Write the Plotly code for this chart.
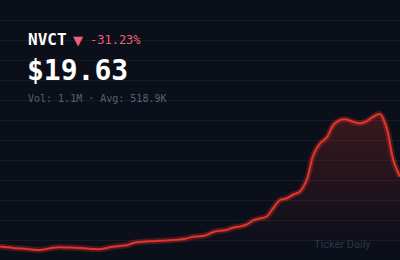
import plotly.graph_objects as go

ticker = "NVCT"
last_price = "$19.63"
change_text = "-31.23%"
volume_text = "Vol: 1.1M · Avg: 518.9K"
watermark = "Ticker Daily"

prices = [9.71, 9.60, 9.50, 9.43, 9.36, 9.26, 9.21, 9.36, 9.54, 9.60,
          9.57, 9.53, 9.50, 9.43, 9.36, 9.31, 9.50, 9.67, 9.78, 9.88,
          10.21, 10.35, 10.42, 10.46, 10.52, 10.56, 10.63, 10.71, 10.85, 11.10,
          11.16, 11.35, 11.77, 11.96, 12.06, 12.41, 12.55, 12.84, 13.41, 13.69,
          13.97, 15.18, 16.32, 16.56, 17.10, 17.53, 19.16, 22.71, 24.35, 25.20,
          26.98, 27.69, 27.76, 27.43, 27.22, 27.54, 28.16, 28.54, 26.55, 22.00,
          19.63]
days = list(range(len(prices)))

Y_BOTTOM, Y_TOP = 7.79, 44.74
GRID_STEP = (Y_TOP - Y_BOTTOM) / 13

BG = "#0b0f1a"
RED = "#e5352a"
W, H = 400, 260

fig = go.Figure()
fig.add_trace(go.Scatter(
    x=days, y=prices, mode="lines",
    line=dict(color="rgba(229,53,42,0.0)", width=0, shape="spline", smoothing=1.0),
    fill="tozeroy",
    fillgradient=dict(type="vertical",
                      colorscale=[[0, "rgba(229,53,42,0.0)"], [1, "rgba(229,53,42,0.22)"]],
                      start=Y_BOTTOM + 2, stop=max(prices)),
    hoverinfo="skip", showlegend=False))
fig.add_trace(go.Scatter(
    x=days, y=prices, mode="lines",
    line=dict(color="rgba(229,53,42,0.28)", width=6, shape="spline", smoothing=1.0),
    hoverinfo="skip", showlegend=False))
fig.add_trace(go.Scatter(
    x=days, y=prices, mode="lines",
    line=dict(color=RED, width=2, shape="spline", smoothing=1.0),
    hoverinfo="skip", showlegend=False))

mono = "DejaVu Sans Mono"

def px(x, y):
    return x / W, 1 - y / H

ann = []
x0, y0 = px(26, 39)
ann.append(dict(text=f"<b>{ticker}</b>", x=x0, y=y0, font=dict(family=mono, size=16, color="#ffffff")))
x0, y0 = px(71, 40)
ann.append(dict(text="▼", x=x0, y=y0, font=dict(family="DejaVu Sans", size=13, color="#f0607a")))
x0, y0 = px(88, 40)
ann.append(dict(text=change_text, x=x0, y=y0, font=dict(family=mono, size=12, color="#f0607a")))
x0, y0 = px(25, 70.5)
ann.append(dict(text=f"<b>{last_price}</b>", x=x0, y=y0, font=dict(family=mono, size=28, color="#ffffff")))
x0, y0 = px(26, 98)
ann.append(dict(text=volume_text, x=x0, y=y0, font=dict(family=mono, size=10, color="#5a6070")))
for a in ann:
    a.update(xref="paper", yref="paper", xanchor="left", yanchor="middle", showarrow=False)
x0, y0 = px(373, 244)
ann.append(dict(text=watermark, x=x0, y=y0, xref="paper", yref="paper", xanchor="right",
                yanchor="middle", showarrow=False, font=dict(family="Roboto", size=11, color="#2f3544")))

fig.update_layout(
    width=W, height=H, margin=dict(l=0, r=0, t=0, b=0),
    paper_bgcolor=BG, plot_bgcolor=BG,
    xaxis=dict(range=[0, len(prices) - 1], visible=False, fixedrange=True),
    yaxis=dict(range=[Y_BOTTOM, Y_TOP], showgrid=True, gridcolor="#161b27", gridwidth=1,
               tick0=Y_BOTTOM, dtick=GRID_STEP, showticklabels=False, zeroline=False,
               showline=False, ticks="", fixedrange=True),
    annotations=ann,
)
fig.write_html("out.html", config={"displayModeBar": False})
